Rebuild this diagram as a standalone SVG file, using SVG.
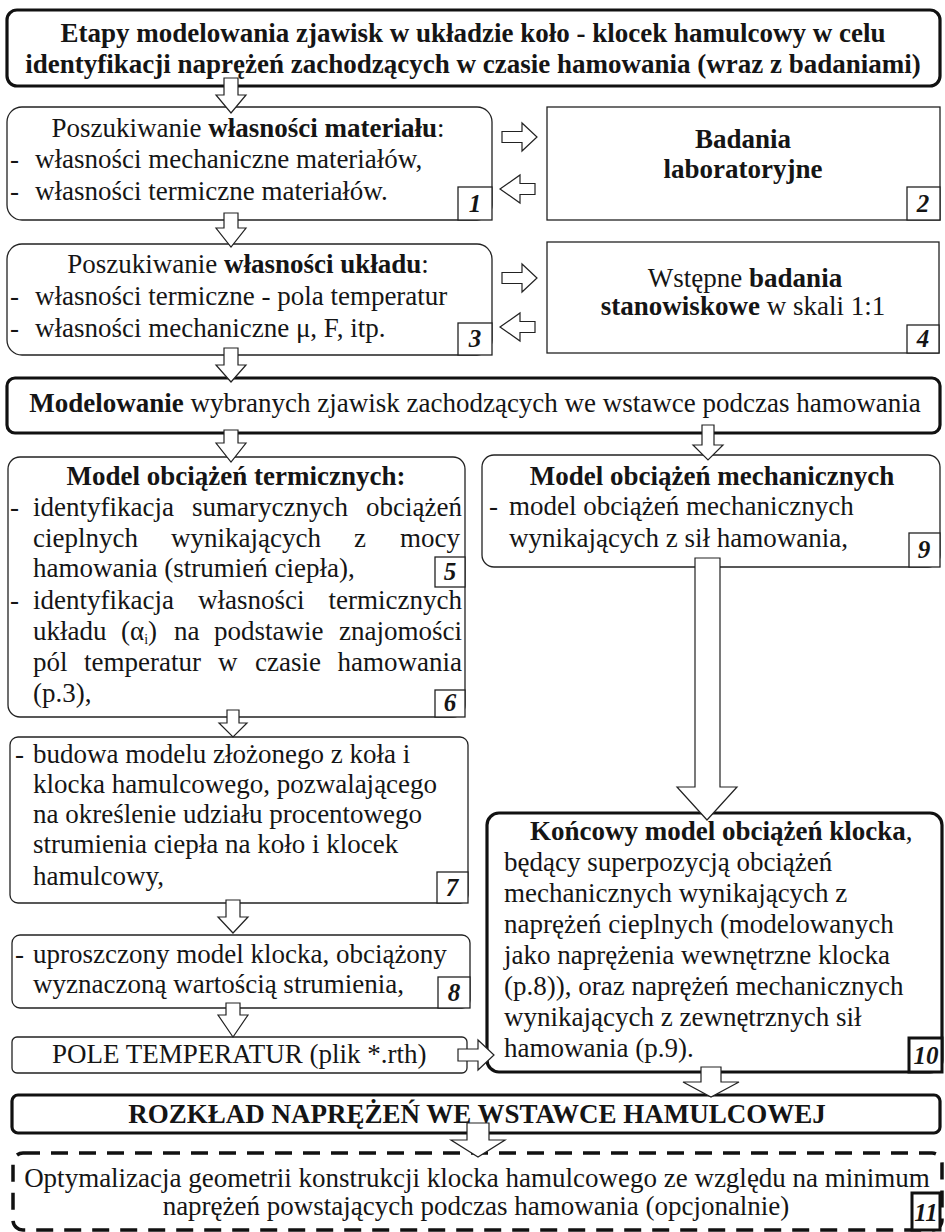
<svg xmlns="http://www.w3.org/2000/svg" width="945" height="1232" viewBox="0 0 945 1232" font-family="'Liberation Serif', Tinos, 'Times New Roman', 'DejaVu Serif', serif">
<style>
.box{fill:#fff;stroke:#222;stroke-width:1.3}
.sq{fill:#fff;stroke:#222;stroke-width:1.3}
.thick{fill:#fff;stroke:#111;stroke-width:3.2}
.dash{fill:#fff;stroke:#111;stroke-width:3.5;stroke-dasharray:17 11}
.num{fill:#fff;stroke:#222;stroke-width:1.3}
.numt{fill:#fff;stroke:#111;stroke-width:3}
.arrow{fill:#fff;stroke:#222;stroke-width:1.2;stroke-linejoin:miter}
text{font-family:'Liberation Serif', Tinos, 'Times New Roman', 'DejaVu Serif', serif;font-size:27px;fill:#151515}
.b{font-weight:bold}
.c{text-anchor:middle}
.e{text-anchor:end}
.n{font-weight:bold;font-style:italic;font-size:25px;text-anchor:middle}
</style>
<rect width="945" height="1232" fill="#fff"/>

<g id="title">
<rect class="thick" x="7" y="10" width="933" height="76" rx="10"/>
<text class="b c" x="473" y="42">Etapy modelowania zjawisk w układzie koło - klocek hamulcowy w celu</text>
<text class="b c" x="473" y="73">identyfikacji naprężeń zachodzących w czasie hamowania (wraz z badaniami)</text>
</g>

<g id="n1">
<rect class="box" x="7" y="107" width="485" height="113" rx="15"/>
<text class="c" x="248" y="137">Poszukiwanie <tspan class="b">własności materiału</tspan>:</text>
<text x="10" y="168">-</text><text x="35" y="168">własności mechaniczne materiałów,</text>
<text x="10" y="200">-</text><text x="35" y="200">własności termiczne materiałów.</text>
<rect class="num" x="458" y="187" width="34" height="33"/>
<text class="n" x="475" y="212">1</text>
</g>

<g id="n2">
<rect class="sq" x="547" y="107" width="393" height="113"/>
<text class="b c" x="743" y="148">Badania</text>
<text class="b c" x="743" y="178">laboratoryjne</text>
<rect class="num" x="907" y="187" width="33" height="33"/>
<text class="n" x="923" y="212">2</text>
</g>

<g id="n3">
<rect class="box" x="7" y="244" width="485" height="111" rx="15"/>
<text class="c" x="248" y="273">Poszukiwanie <tspan class="b">własności układu</tspan>:</text>
<text x="10" y="305">-</text><text x="35" y="305">własności termiczne - pola temperatur</text>
<text x="10" y="337">-</text><text x="35" y="337">własności mechaniczne μ, F, itp.</text>
<rect class="num" x="458" y="323" width="34" height="32"/>
<text class="n" x="475" y="347">3</text>
</g>

<g id="n4">
<rect class="sq" x="547" y="242" width="392" height="111"/>
<text class="c" x="745" y="287">Wstępne <tspan class="b">badania</tspan></text>
<text class="c" x="743" y="315"><tspan class="b">stanowiskowe</tspan> w skali 1:1</text>
<rect class="num" x="907" y="325" width="32" height="28"/>
<text class="n" x="923" y="347">4</text>
</g>

<g id="modelowanie">
<rect class="thick" x="7" y="378" width="933" height="55" rx="8"/>
<text class="c" x="475" y="412"><tspan class="b">Modelowanie</tspan> wybranych zjawisk zachodzących we wstawce podczas hamowania</text>
</g>

<g id="n5_6">
<rect class="box" x="8" y="457" width="457" height="260" rx="12"/>
<text class="b c" x="236" y="485">Model obciążeń termicznych:</text>
<text x="10" y="516">-</text><text x="33" y="516">identyfikacja</text><text x="192" y="516">sumarycznych</text><text class="e" x="462" y="516">obciążeń</text>
<text x="33" y="547">cieplnych</text><text x="171" y="547">wynikających</text><text x="354" y="547">z</text><text class="e" x="460" y="547">mocy</text>
<text x="33" y="577">hamowania (strumień ciepła),</text>
<text x="10" y="609">-</text><text x="33" y="609">identyfikacja</text><text x="198" y="609">własności</text><text class="e" x="462" y="609">termicznych</text>
<text x="33" y="640">układu</text><text x="121" y="640">(α<tspan font-size="14" dy="4">i</tspan><tspan dy="-4">)</tspan></text><text x="174" y="640">na</text><text x="214" y="640">podstawie</text><text class="e" x="462" y="640">znajomości</text>
<text x="33" y="671">pól</text><text x="84" y="671">temperatur</text><text x="218" y="671">w</text><text x="255" y="671">czasie</text><text class="e" x="462" y="671">hamowania</text>
<text x="33" y="702">(p.3),</text>
<rect class="num" x="435" y="557" width="30" height="30"/>
<text class="n" x="450" y="580">5</text>
<rect class="num" x="435" y="690" width="30" height="27"/>
<text class="n" x="450" y="711">6</text>
</g>

<g id="n9">
<rect class="box" x="482" y="455" width="458" height="112" rx="12"/>
<text class="b c" x="712" y="485">Model obciążeń mechanicznych</text>
<text x="489" y="515">-</text><text x="509" y="515">model obciążeń mechanicznych</text>
<text x="509" y="547">wynikających z sił hamowania,</text>
<rect class="num" x="909" y="533" width="31" height="34"/>
<text class="n" x="924" y="558">9</text>
</g>

<g id="n7">
<rect class="box" x="10" y="737" width="458" height="166" rx="8"/>
<text x="15" y="763">-</text><text x="33" y="763">budowa modelu złożonego z koła i</text>
<text x="33" y="793">klocka hamulcowego, pozwalającego</text>
<text x="33" y="823">na określenie udziału procentowego</text>
<text x="33" y="853">strumienia ciepła na koło i klocek</text>
<text x="33" y="885">hamulcowy,</text>
<rect class="num" x="437" y="872" width="31" height="31"/>
<text class="n" x="452" y="896">7</text>
</g>

<g id="n8">
<rect class="box" x="12" y="935" width="458" height="73" rx="8"/>
<text x="15" y="963">-</text><text x="33" y="963">uproszczony model klocka, obciążony</text>
<text x="33" y="993">wyznaczoną wartością strumienia,</text>
<rect class="num" x="438" y="977" width="32" height="31"/>
<text class="n" x="454" y="1001">8</text>
</g>

<g id="pole">
<rect class="box" x="12" y="1037" width="455" height="36" rx="5"/>
<text x="52" y="1063">POLE TEMPERATUR (plik *.rth)</text>
</g>

<g id="n10">
<rect class="thick" x="487" y="813" width="455" height="259" rx="12"/>
<text x="530" y="840"><tspan class="b">Końcowy model obciążeń klocka</tspan>,</text>
<text x="504" y="871">będący superpozycją obciążeń</text>
<text x="504" y="902">mechanicznych wynikających z</text>
<text x="504" y="933">naprężeń cieplnych (modelowanych</text>
<text x="504" y="964">jako naprężenia wewnętrzne klocka</text>
<text x="504" y="995">(p.8)), oraz naprężeń mechanicznych</text>
<text x="504" y="1026">wynikających z zewnętrznych sił</text>
<text x="504" y="1057">hamowania (p.9).</text>
<rect class="numt" x="909" y="1038" width="33" height="34"/>
<text class="n" x="926" y="1064" font-size="23">10</text>
</g>

<g id="rozklad">
<rect class="thick" x="12" y="1095" width="928" height="38" rx="6"/>
<text class="b c" x="477" y="1123" font-size="28">ROZKŁAD NAPRĘŻEŃ WE WSTAWCE HAMULCOWEJ</text>
</g>

<g id="n11">
<rect class="dash" x="13" y="1153" width="929" height="77" rx="10"/>
<text class="c" x="477" y="1187">Optymalizacja geometrii konstrukcji klocka hamulcowego ze względu na minimum</text>
<text class="c" x="476" y="1215">naprężeń powstających podczas hamowania (opcjonalnie)</text>
<rect class="numt" x="912" y="1193" width="28" height="37"/>
<text class="n" x="926" y="1221" font-size="23">11</text>
</g>

<g id="connectors">
<path class="arrow" d="M224,78 L238,78 L238,95 L246,95 L231,113 L216,95 L224,95 Z"/>
<path class="arrow" d="M224,213 L238,213 L238,228 L246,228 L231,247 L216,228 L224,228 Z"/>
<path class="arrow" d="M224,348 L238,348 L238,365 L246,365 L231,382 L216,365 L224,365 Z"/>
<path class="arrow" d="M224,430 L238,430 L238,443 L246,443 L231,462 L216,443 L224,443 Z"/>
<path class="arrow" d="M227,710 L239,710 L239,723 L247,723 L233,737 L219,723 L227,723 Z"/>
<path class="arrow" d="M226,900 L240,900 L240,917 L248,917 L233,933 L218,917 L226,917 Z"/>
<path class="arrow" d="M226,1003 L240,1003 L240,1015 L248,1015 L233,1037 L218,1015 L226,1015 Z"/>
<path class="arrow" d="M702,425 L714,425 L714,445 L723,445 L708,460 L693,445 L702,445 Z"/>
<path class="arrow" d="M695,558 L720,558 L720,787 L737,787 L707,820 L677,787 L695,787 Z"/>
<path class="arrow" d="M701,1067 L721,1067 L721,1082 L739,1082 L711,1097 L683,1082 L701,1082 Z"/>
<path class="arrow" d="M467,1123 L489,1123 L489,1140 L505,1140 L478,1157 L451,1140 L467,1140 Z"/>
<path class="arrow" d="M502,131.5 L522,131.5 L522,123 L537,137 L522,151 L522,142.5 L502,142.5 Z"/>
<path class="arrow" d="M535,183.5 L520,183.5 L520,175 L500,189 L520,203 L520,194.5 L535,194.5 Z"/>
<path class="arrow" d="M502,272.5 L522,272.5 L522,264 L537,278 L522,292 L522,283.5 L502,283.5 Z"/>
<path class="arrow" d="M535,321.5 L520,321.5 L520,313 L500,327 L520,341 L520,332.5 L535,332.5 Z"/>
<path class="arrow" d="M458,1049 L478,1049 L478,1040 L494,1055 L478,1070 L478,1061 L458,1061 Z"/>
</g>
</svg>
